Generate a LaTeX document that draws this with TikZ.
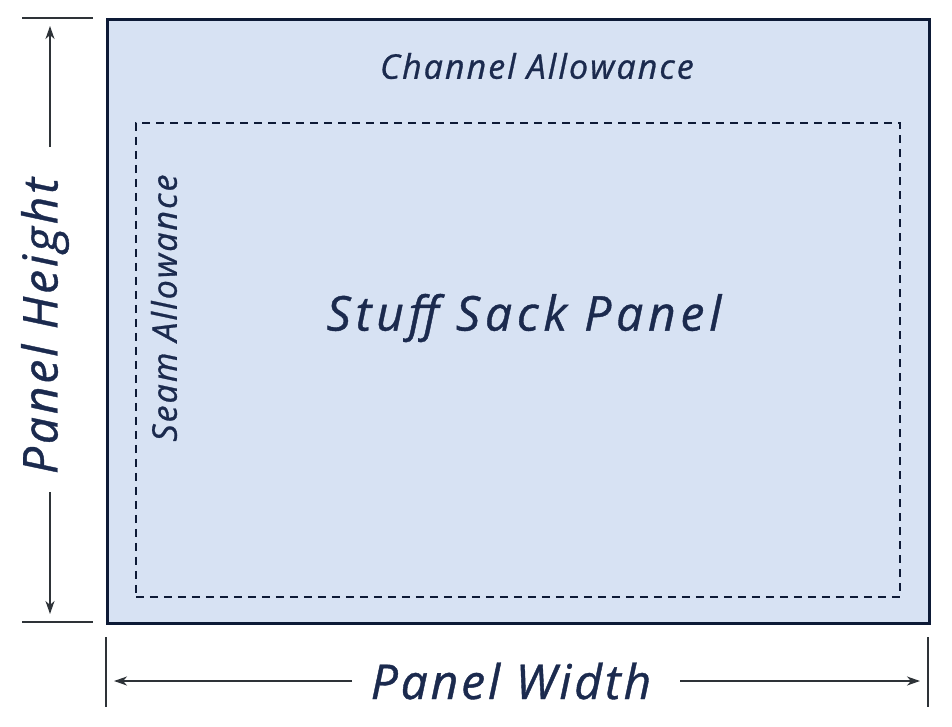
\documentclass[tikz,border=0pt]{standalone}
\usepackage{fontspec}
\setmainfont{Open Sans}[LetterSpace=6,FakeBold=0.8]
\newfontfamily\widefont{Open Sans}[LetterSpace=10,FakeBold=0.8]
\usetikzlibrary{arrows.meta}
\definecolor{ink}{HTML}{1B2A4E}
\definecolor{panelfill}{HTML}{D7E2F3}
\definecolor{panelline}{HTML}{0D1A36}
\definecolor{dimline}{HTML}{2E3338}
\tikzset{
  lbl/.style={text=ink, inner sep=0pt},
  dimarrow/.style={draw=dimline, line width=1.8pt, -{Stealth[length=13pt,width=9pt,inset=4pt,fill=ink]}},
  extline/.style={draw=dimline, line width=1.8pt},
}
\begin{document}
\begin{tikzpicture}[x=1pt,y=-1pt]
\useasboundingbox (0,0) rectangle (952,726);
% panel
\node[draw=panelline, fill=panelfill, line width=3pt, minimum width=822pt, minimum height=604pt, inner sep=0pt, anchor=north west] (panel) at (106,18) {};
\node[draw=panelline, dash pattern=on 8pt off 6pt, line width=1.8pt, minimum width=764pt, minimum height=474pt, inner sep=0pt, anchor=north west] (seam) at (135,122) {};
% labels
\node[lbl, font=\itshape\fontsize{34}{40}\selectfont] (chan) at (537,66) {Channel Allowance};
\node[lbl, font=\widefont\itshape\fontsize{48}{54}\selectfont] (title) at (524,318) {Stuff Sack Panel};
\node[lbl, font=\itshape\fontsize{34}{40}\selectfont, rotate=90] (seamlbl) at (164,308) {Seam Allowance};
% height dimension
\coordinate (ht1) at (22,18); \coordinate (ht2) at (93,18);
\coordinate (hb1) at (22,622); \coordinate (hb2) at (93,622);
\draw[extline] (ht1) -- (ht2);
\draw[extline] (hb1) -- (hb2);
\node[lbl, font=\itshape\fontsize{48}{54}\selectfont, rotate=90] (hlbl) at (45,326) {Panel Height};
\coordinate (htop) at (50,26); \coordinate (hbot) at (50,614);
\coordinate (hm1) at (50,147); \coordinate (hm2) at (50,492);
\draw[dimarrow] (hm1) -- (htop);
\draw[dimarrow] (hm2) -- (hbot);
% width dimension
\coordinate (wl1) at (106,637); \coordinate (wl2) at (106,707);
\coordinate (wr1) at (928,637); \coordinate (wr2) at (928,707);
\draw[extline] (wl1) -- (wl2);
\draw[extline] (wr1) -- (wr2);
\node[lbl, font=\itshape\fontsize{48}{54}\selectfont] (wlbl) at (511,681) {Panel Width};
\coordinate (wleft) at (114,681); \coordinate (wright) at (920,681);
\coordinate (wm1) at (352,681); \coordinate (wm2) at (680,681);
\draw[dimarrow] (wm1) -- (wleft);
\draw[dimarrow] (wm2) -- (wright);
\end{tikzpicture}
\end{document}
